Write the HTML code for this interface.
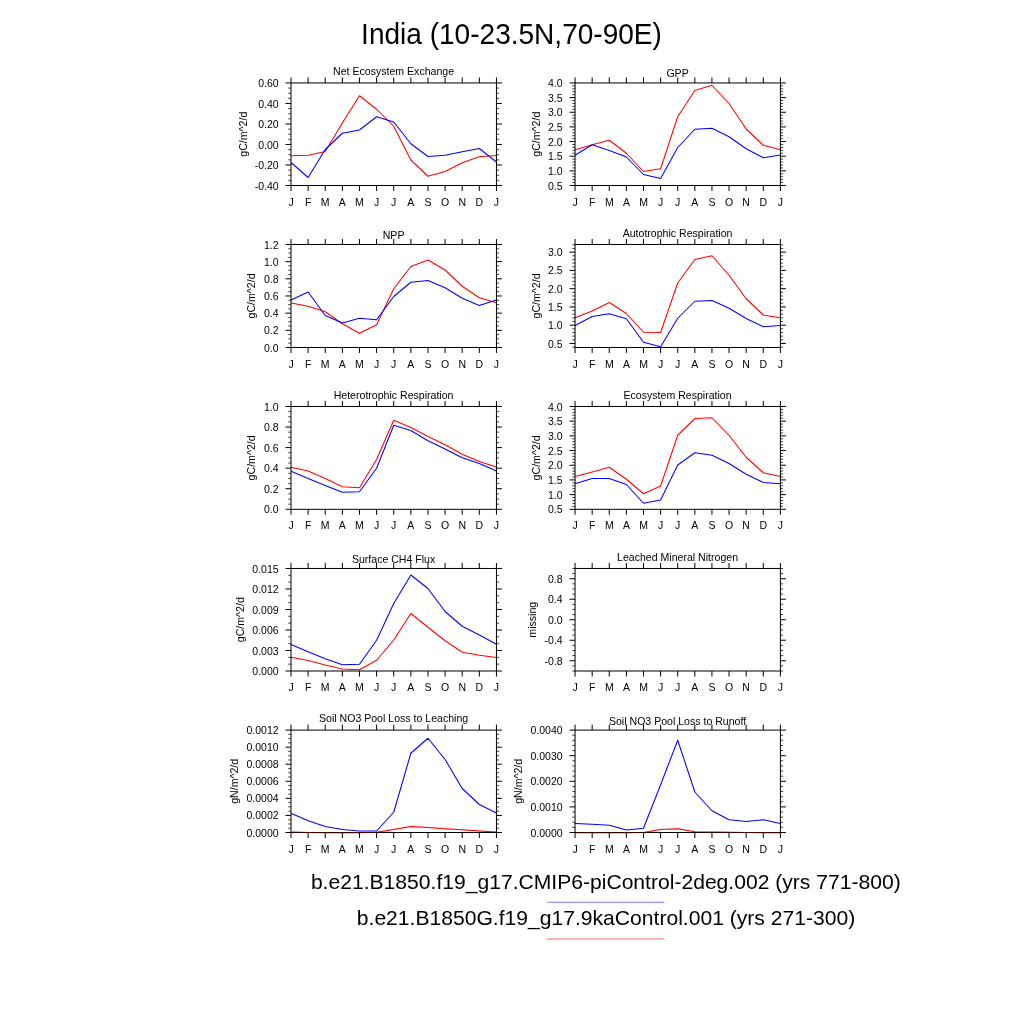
<!DOCTYPE html>
<html lang="en"><head><meta charset="utf-8"><title>India (10-23.5N,70-90E)</title>
<style>html,body{margin:0;padding:0;background:#fff;}body{width:1024px;height:1024px;overflow:hidden;}svg{display:block;}text{font-family:"Liberation Sans",sans-serif;fill:#000;}</style></head><body>
<svg width="1024" height="1024" viewBox="0 0 1024 1024">
<rect x="0" y="0" width="1024" height="1024" fill="#ffffff"/>
<text x="511.5" y="43.75" font-size="29.4" text-anchor="middle" textLength="300.8" lengthAdjust="spacingAndGlyphs">India (10-23.5N,70-90E)</text>
<g>
<polyline fill="none" stroke="#ff0000" stroke-width="1.05" stroke-linejoin="round" points="291,155.75 308.12,155.25 325.24,151.5 342.36,123 359.48,95.75 376.6,109.25 393.73,126.25 410.85,160 427.97,176.25 445.09,171.5 462.21,162.75 479.33,156.75 496.45,155.5"/>
<polyline fill="none" stroke="#0000ff" stroke-width="1.05" stroke-linejoin="round" points="291,162.5 308.12,177.5 325.24,149.5 342.36,133.25 359.48,130 376.6,116.75 393.73,122 410.85,143.75 427.97,156.5 445.09,155.25 462.21,151.75 479.33,148.5 496.45,162"/>
<path d="M291 82.95V77.45M291 185.5V191M308.12 82.95V77.45M308.12 185.5V191M325.24 82.95V77.45M325.24 185.5V191M342.36 82.95V77.45M342.36 185.5V191M359.48 82.95V77.45M359.48 185.5V191M376.6 82.95V77.45M376.6 185.5V191M393.73 82.95V77.45M393.73 185.5V191M410.85 82.95V77.45M410.85 185.5V191M427.97 82.95V77.45M427.97 185.5V191M445.09 82.95V77.45M445.09 185.5V191M462.21 82.95V77.45M462.21 185.5V191M479.33 82.95V77.45M479.33 185.5V191M496.45 82.95V77.45M496.45 185.5V191M291 82.95H285.5M496.45 82.95H501.95M291 103.46H285.5M496.45 103.46H501.95M291 123.97H285.5M496.45 123.97H501.95M291 144.48H285.5M496.45 144.48H501.95M291 164.99H285.5M496.45 164.99H501.95M291 185.5H285.5M496.45 185.5H501.95" stroke="#000" stroke-width="1.0" fill="none"/>
<path d="M291 88.08H288.3M496.45 88.08H499.15M291 93.2H288.3M496.45 93.2H499.15M291 98.33H288.3M496.45 98.33H499.15M291 108.59H288.3M496.45 108.59H499.15M291 113.72H288.3M496.45 113.72H499.15M291 118.84H288.3M496.45 118.84H499.15M291 129.1H288.3M496.45 129.1H499.15M291 134.22H288.3M496.45 134.22H499.15M291 139.35H288.3M496.45 139.35H499.15M291 149.61H288.3M496.45 149.61H499.15M291 154.74H288.3M496.45 154.74H499.15M291 159.86H288.3M496.45 159.86H499.15M291 170.12H288.3M496.45 170.12H499.15M291 175.25H288.3M496.45 175.25H499.15M291 180.37H288.3M496.45 180.37H499.15" stroke="#000" stroke-width="0.75" fill="none"/>
<rect x="291" y="82.95" width="205.45" height="102.55" fill="none" stroke="#000" stroke-width="1.0"/>
<text x="278.6" y="87" font-size="10.5" text-anchor="end">0.60</text>
<text x="278.6" y="107.51" font-size="10.5" text-anchor="end">0.40</text>
<text x="278.6" y="128.02" font-size="10.5" text-anchor="end">0.20</text>
<text x="278.6" y="148.53" font-size="10.5" text-anchor="end">0.00</text>
<text x="278.6" y="169.04" font-size="10.5" text-anchor="end">-0.20</text>
<text x="278.6" y="189.55" font-size="10.5" text-anchor="end">-0.40</text>
<text x="291" y="205.6" font-size="10.5" text-anchor="middle">J</text>
<text x="308.12" y="205.6" font-size="10.5" text-anchor="middle">F</text>
<text x="325.24" y="205.6" font-size="10.5" text-anchor="middle">M</text>
<text x="342.36" y="205.6" font-size="10.5" text-anchor="middle">A</text>
<text x="359.48" y="205.6" font-size="10.5" text-anchor="middle">M</text>
<text x="376.6" y="205.6" font-size="10.5" text-anchor="middle">J</text>
<text x="393.73" y="205.6" font-size="10.5" text-anchor="middle">J</text>
<text x="410.85" y="205.6" font-size="10.5" text-anchor="middle">A</text>
<text x="427.97" y="205.6" font-size="10.5" text-anchor="middle">S</text>
<text x="445.09" y="205.6" font-size="10.5" text-anchor="middle">O</text>
<text x="462.21" y="205.6" font-size="10.5" text-anchor="middle">N</text>
<text x="479.33" y="205.6" font-size="10.5" text-anchor="middle">D</text>
<text x="496.45" y="205.6" font-size="10.5" text-anchor="middle">J</text>
<text x="393.58" y="75.2" font-size="10.57" text-anchor="middle">Net Ecosystem Exchange</text>
<text transform="translate(246.5 134.22) rotate(-90)" font-size="10.6" text-anchor="middle">gC/m^2/d</text>
</g>
<g>
<polyline fill="none" stroke="#ff0000" stroke-width="1.05" stroke-linejoin="round" points="575.05,149.75 592.16,144.75 609.27,140.25 626.39,153.25 643.5,171.5 660.61,168.75 677.72,116.75 694.84,90.5 711.95,85.25 729.06,103.5 746.17,129 763.29,145.25 780.4,149.75"/>
<polyline fill="none" stroke="#0000ff" stroke-width="1.05" stroke-linejoin="round" points="575.05,155.25 592.16,144.75 609.27,150.5 626.39,157 643.5,174.5 660.61,178.5 677.72,147.5 694.84,129.25 711.95,128.25 729.06,136.75 746.17,148.75 763.29,157.75 780.4,155"/>
<path d="M575.05 82.95V77.45M575.05 185.5V191M592.16 82.95V77.45M592.16 185.5V191M609.27 82.95V77.45M609.27 185.5V191M626.39 82.95V77.45M626.39 185.5V191M643.5 82.95V77.45M643.5 185.5V191M660.61 82.95V77.45M660.61 185.5V191M677.72 82.95V77.45M677.72 185.5V191M694.84 82.95V77.45M694.84 185.5V191M711.95 82.95V77.45M711.95 185.5V191M729.06 82.95V77.45M729.06 185.5V191M746.17 82.95V77.45M746.17 185.5V191M763.29 82.95V77.45M763.29 185.5V191M780.4 82.95V77.45M780.4 185.5V191M575.05 82.95H569.55M780.4 82.95H785.9M575.05 97.6H569.55M780.4 97.6H785.9M575.05 112.25H569.55M780.4 112.25H785.9M575.05 126.9H569.55M780.4 126.9H785.9M575.05 141.55H569.55M780.4 141.55H785.9M575.05 156.2H569.55M780.4 156.2H785.9M575.05 170.85H569.55M780.4 170.85H785.9M575.05 185.5H569.55M780.4 185.5H785.9" stroke="#000" stroke-width="1.0" fill="none"/>
<path d="M575.05 85.88H572.35M780.4 85.88H783.1M575.05 88.81H572.35M780.4 88.81H783.1M575.05 91.74H572.35M780.4 91.74H783.1M575.05 94.67H572.35M780.4 94.67H783.1M575.05 100.53H572.35M780.4 100.53H783.1M575.05 103.46H572.35M780.4 103.46H783.1M575.05 106.39H572.35M780.4 106.39H783.1M575.05 109.32H572.35M780.4 109.32H783.1M575.05 115.18H572.35M780.4 115.18H783.1M575.05 118.11H572.35M780.4 118.11H783.1M575.05 121.04H572.35M780.4 121.04H783.1M575.05 123.97H572.35M780.4 123.97H783.1M575.05 129.83H572.35M780.4 129.83H783.1M575.05 132.76H572.35M780.4 132.76H783.1M575.05 135.69H572.35M780.4 135.69H783.1M575.05 138.62H572.35M780.4 138.62H783.1M575.05 144.48H572.35M780.4 144.48H783.1M575.05 147.41H572.35M780.4 147.41H783.1M575.05 150.34H572.35M780.4 150.34H783.1M575.05 153.27H572.35M780.4 153.27H783.1M575.05 159.13H572.35M780.4 159.13H783.1M575.05 162.06H572.35M780.4 162.06H783.1M575.05 164.99H572.35M780.4 164.99H783.1M575.05 167.92H572.35M780.4 167.92H783.1M575.05 173.78H572.35M780.4 173.78H783.1M575.05 176.71H572.35M780.4 176.71H783.1M575.05 179.64H572.35M780.4 179.64H783.1M575.05 182.57H572.35M780.4 182.57H783.1" stroke="#000" stroke-width="0.75" fill="none"/>
<rect x="575.05" y="82.95" width="205.35" height="102.55" fill="none" stroke="#000" stroke-width="1.0"/>
<text x="562.65" y="87" font-size="10.5" text-anchor="end">4.0</text>
<text x="562.65" y="101.65" font-size="10.5" text-anchor="end">3.5</text>
<text x="562.65" y="116.3" font-size="10.5" text-anchor="end">3.0</text>
<text x="562.65" y="130.95" font-size="10.5" text-anchor="end">2.5</text>
<text x="562.65" y="145.6" font-size="10.5" text-anchor="end">2.0</text>
<text x="562.65" y="160.25" font-size="10.5" text-anchor="end">1.5</text>
<text x="562.65" y="174.9" font-size="10.5" text-anchor="end">1.0</text>
<text x="562.65" y="189.55" font-size="10.5" text-anchor="end">0.5</text>
<text x="575.05" y="205.6" font-size="10.5" text-anchor="middle">J</text>
<text x="592.16" y="205.6" font-size="10.5" text-anchor="middle">F</text>
<text x="609.27" y="205.6" font-size="10.5" text-anchor="middle">M</text>
<text x="626.39" y="205.6" font-size="10.5" text-anchor="middle">A</text>
<text x="643.5" y="205.6" font-size="10.5" text-anchor="middle">M</text>
<text x="660.61" y="205.6" font-size="10.5" text-anchor="middle">J</text>
<text x="677.72" y="205.6" font-size="10.5" text-anchor="middle">J</text>
<text x="694.84" y="205.6" font-size="10.5" text-anchor="middle">A</text>
<text x="711.95" y="205.6" font-size="10.5" text-anchor="middle">S</text>
<text x="729.06" y="205.6" font-size="10.5" text-anchor="middle">O</text>
<text x="746.17" y="205.6" font-size="10.5" text-anchor="middle">N</text>
<text x="763.29" y="205.6" font-size="10.5" text-anchor="middle">D</text>
<text x="780.4" y="205.6" font-size="10.5" text-anchor="middle">J</text>
<text x="677.57" y="77.35" font-size="10.57" text-anchor="middle">GPP</text>
<text transform="translate(539.8 134.22) rotate(-90)" font-size="10.6" text-anchor="middle">gC/m^2/d</text>
</g>
<g>
<polyline fill="none" stroke="#ff0000" stroke-width="1.05" stroke-linejoin="round" points="291,303 308.12,306.25 325.24,311.75 342.36,323.75 359.48,333.25 376.6,324.75 393.73,288.75 410.85,266.5 427.97,260 445.09,270 462.21,286.25 479.33,297.75 496.45,302.75"/>
<polyline fill="none" stroke="#0000ff" stroke-width="1.05" stroke-linejoin="round" points="291,300 308.12,292 325.24,315.5 342.36,323 359.48,318.25 376.6,319.75 393.73,296.5 410.85,282.25 427.97,280.5 445.09,287.75 462.21,298.25 479.33,305.5 496.45,300"/>
<path d="M291 244.47V238.97M291 347.47V352.97M308.12 244.47V238.97M308.12 347.47V352.97M325.24 244.47V238.97M325.24 347.47V352.97M342.36 244.47V238.97M342.36 347.47V352.97M359.48 244.47V238.97M359.48 347.47V352.97M376.6 244.47V238.97M376.6 347.47V352.97M393.73 244.47V238.97M393.73 347.47V352.97M410.85 244.47V238.97M410.85 347.47V352.97M427.97 244.47V238.97M427.97 347.47V352.97M445.09 244.47V238.97M445.09 347.47V352.97M462.21 244.47V238.97M462.21 347.47V352.97M479.33 244.47V238.97M479.33 347.47V352.97M496.45 244.47V238.97M496.45 347.47V352.97M291 244.47H285.5M496.45 244.47H501.95M291 261.64H285.5M496.45 261.64H501.95M291 278.8H285.5M496.45 278.8H501.95M291 295.97H285.5M496.45 295.97H501.95M291 313.14H285.5M496.45 313.14H501.95M291 330.3H285.5M496.45 330.3H501.95M291 347.47H285.5M496.45 347.47H501.95" stroke="#000" stroke-width="1.0" fill="none"/>
<path d="M291 248.76H288.3M496.45 248.76H499.15M291 253.05H288.3M496.45 253.05H499.15M291 257.35H288.3M496.45 257.35H499.15M291 265.93H288.3M496.45 265.93H499.15M291 270.22H288.3M496.45 270.22H499.15M291 274.51H288.3M496.45 274.51H499.15M291 283.1H288.3M496.45 283.1H499.15M291 287.39H288.3M496.45 287.39H499.15M291 291.68H288.3M496.45 291.68H499.15M291 300.26H288.3M496.45 300.26H499.15M291 304.55H288.3M496.45 304.55H499.15M291 308.85H288.3M496.45 308.85H499.15M291 317.43H288.3M496.45 317.43H499.15M291 321.72H288.3M496.45 321.72H499.15M291 326.01H288.3M496.45 326.01H499.15M291 334.6H288.3M496.45 334.6H499.15M291 338.89H288.3M496.45 338.89H499.15M291 343.18H288.3M496.45 343.18H499.15" stroke="#000" stroke-width="0.75" fill="none"/>
<rect x="291" y="244.47" width="205.45" height="103" fill="none" stroke="#000" stroke-width="1.0"/>
<text x="278.6" y="248.52" font-size="10.5" text-anchor="end">1.2</text>
<text x="278.6" y="265.69" font-size="10.5" text-anchor="end">1.0</text>
<text x="278.6" y="282.85" font-size="10.5" text-anchor="end">0.8</text>
<text x="278.6" y="300.02" font-size="10.5" text-anchor="end">0.6</text>
<text x="278.6" y="317.19" font-size="10.5" text-anchor="end">0.4</text>
<text x="278.6" y="334.35" font-size="10.5" text-anchor="end">0.2</text>
<text x="278.6" y="351.52" font-size="10.5" text-anchor="end">0.0</text>
<text x="291" y="367.57" font-size="10.5" text-anchor="middle">J</text>
<text x="308.12" y="367.57" font-size="10.5" text-anchor="middle">F</text>
<text x="325.24" y="367.57" font-size="10.5" text-anchor="middle">M</text>
<text x="342.36" y="367.57" font-size="10.5" text-anchor="middle">A</text>
<text x="359.48" y="367.57" font-size="10.5" text-anchor="middle">M</text>
<text x="376.6" y="367.57" font-size="10.5" text-anchor="middle">J</text>
<text x="393.73" y="367.57" font-size="10.5" text-anchor="middle">J</text>
<text x="410.85" y="367.57" font-size="10.5" text-anchor="middle">A</text>
<text x="427.97" y="367.57" font-size="10.5" text-anchor="middle">S</text>
<text x="445.09" y="367.57" font-size="10.5" text-anchor="middle">O</text>
<text x="462.21" y="367.57" font-size="10.5" text-anchor="middle">N</text>
<text x="479.33" y="367.57" font-size="10.5" text-anchor="middle">D</text>
<text x="496.45" y="367.57" font-size="10.5" text-anchor="middle">J</text>
<text x="393.58" y="238.87" font-size="10.57" text-anchor="middle">NPP</text>
<text transform="translate(255.3 295.97) rotate(-90)" font-size="10.6" text-anchor="middle">gC/m^2/d</text>
</g>
<g>
<polyline fill="none" stroke="#ff0000" stroke-width="1.05" stroke-linejoin="round" points="575.05,317.75 592.16,311 609.27,302.5 626.39,313.5 643.5,332.25 660.61,332.5 677.72,283 694.84,259.5 711.95,255.75 729.06,275.25 746.17,298.75 763.29,315 780.4,317.75"/>
<polyline fill="none" stroke="#0000ff" stroke-width="1.05" stroke-linejoin="round" points="575.05,325.5 592.16,316.5 609.27,313.75 626.39,318.75 643.5,342.25 660.61,346.75 677.72,318.25 694.84,301.25 711.95,300.5 729.06,308.25 746.17,318.5 763.29,326.75 780.4,325.5"/>
<path d="M575.05 244.47V238.97M575.05 347.47V352.97M592.16 244.47V238.97M592.16 347.47V352.97M609.27 244.47V238.97M609.27 347.47V352.97M626.39 244.47V238.97M626.39 347.47V352.97M643.5 244.47V238.97M643.5 347.47V352.97M660.61 244.47V238.97M660.61 347.47V352.97M677.72 244.47V238.97M677.72 347.47V352.97M694.84 244.47V238.97M694.84 347.47V352.97M711.95 244.47V238.97M711.95 347.47V352.97M729.06 244.47V238.97M729.06 347.47V352.97M746.17 244.47V238.97M746.17 347.47V352.97M763.29 244.47V238.97M763.29 347.47V352.97M780.4 244.47V238.97M780.4 347.47V352.97M575.05 252.14H569.55M780.4 252.14H785.9M575.05 270.4H569.55M780.4 270.4H785.9M575.05 288.67H569.55M780.4 288.67H785.9M575.05 306.93H569.55M780.4 306.93H785.9M575.05 325.19H569.55M780.4 325.19H785.9M575.05 343.45H569.55M780.4 343.45H785.9" stroke="#000" stroke-width="1.0" fill="none"/>
<path d="M575.05 244.84H572.35M780.4 244.84H783.1M575.05 248.49H572.35M780.4 248.49H783.1M575.05 255.79H572.35M780.4 255.79H783.1M575.05 259.45H572.35M780.4 259.45H783.1M575.05 263.1H572.35M780.4 263.1H783.1M575.05 266.75H572.35M780.4 266.75H783.1M575.05 274.06H572.35M780.4 274.06H783.1M575.05 277.71H572.35M780.4 277.71H783.1M575.05 281.36H572.35M780.4 281.36H783.1M575.05 285.01H572.35M780.4 285.01H783.1M575.05 292.32H572.35M780.4 292.32H783.1M575.05 295.97H572.35M780.4 295.97H783.1M575.05 299.62H572.35M780.4 299.62H783.1M575.05 303.27H572.35M780.4 303.27H783.1M575.05 310.58H572.35M780.4 310.58H783.1M575.05 314.23H572.35M780.4 314.23H783.1M575.05 317.88H572.35M780.4 317.88H783.1M575.05 321.54H572.35M780.4 321.54H783.1M575.05 328.84H572.35M780.4 328.84H783.1M575.05 332.49H572.35M780.4 332.49H783.1M575.05 336.15H572.35M780.4 336.15H783.1M575.05 339.8H572.35M780.4 339.8H783.1M575.05 347.1H572.35M780.4 347.1H783.1" stroke="#000" stroke-width="0.75" fill="none"/>
<rect x="575.05" y="244.47" width="205.35" height="103" fill="none" stroke="#000" stroke-width="1.0"/>
<text x="562.65" y="256.19" font-size="10.5" text-anchor="end">3.0</text>
<text x="562.65" y="274.45" font-size="10.5" text-anchor="end">2.5</text>
<text x="562.65" y="292.72" font-size="10.5" text-anchor="end">2.0</text>
<text x="562.65" y="310.98" font-size="10.5" text-anchor="end">1.5</text>
<text x="562.65" y="329.24" font-size="10.5" text-anchor="end">1.0</text>
<text x="562.65" y="347.5" font-size="10.5" text-anchor="end">0.5</text>
<text x="575.05" y="367.57" font-size="10.5" text-anchor="middle">J</text>
<text x="592.16" y="367.57" font-size="10.5" text-anchor="middle">F</text>
<text x="609.27" y="367.57" font-size="10.5" text-anchor="middle">M</text>
<text x="626.39" y="367.57" font-size="10.5" text-anchor="middle">A</text>
<text x="643.5" y="367.57" font-size="10.5" text-anchor="middle">M</text>
<text x="660.61" y="367.57" font-size="10.5" text-anchor="middle">J</text>
<text x="677.72" y="367.57" font-size="10.5" text-anchor="middle">J</text>
<text x="694.84" y="367.57" font-size="10.5" text-anchor="middle">A</text>
<text x="711.95" y="367.57" font-size="10.5" text-anchor="middle">S</text>
<text x="729.06" y="367.57" font-size="10.5" text-anchor="middle">O</text>
<text x="746.17" y="367.57" font-size="10.5" text-anchor="middle">N</text>
<text x="763.29" y="367.57" font-size="10.5" text-anchor="middle">D</text>
<text x="780.4" y="367.57" font-size="10.5" text-anchor="middle">J</text>
<text x="677.57" y="236.72" font-size="10.57" text-anchor="middle">Autotrophic Respiration</text>
<text transform="translate(539.8 295.97) rotate(-90)" font-size="10.6" text-anchor="middle">gC/m^2/d</text>
</g>
<g>
<polyline fill="none" stroke="#ff0000" stroke-width="1.05" stroke-linejoin="round" points="291,467.25 308.12,471 325.24,478.5 342.36,486.75 359.48,487.75 376.6,459.5 393.73,420.25 410.85,427.5 427.97,436.5 445.09,444.75 462.21,454.25 479.33,461.5 496.45,467"/>
<polyline fill="none" stroke="#0000ff" stroke-width="1.05" stroke-linejoin="round" points="291,471.25 308.12,478.5 325.24,485.5 342.36,492.25 359.48,491.75 376.6,468.25 393.73,425.25 410.85,430.5 427.97,440.75 445.09,449 462.21,457.75 479.33,463.5 496.45,471"/>
<path d="M291 406.47V400.97M291 509.3V514.8M308.12 406.47V400.97M308.12 509.3V514.8M325.24 406.47V400.97M325.24 509.3V514.8M342.36 406.47V400.97M342.36 509.3V514.8M359.48 406.47V400.97M359.48 509.3V514.8M376.6 406.47V400.97M376.6 509.3V514.8M393.73 406.47V400.97M393.73 509.3V514.8M410.85 406.47V400.97M410.85 509.3V514.8M427.97 406.47V400.97M427.97 509.3V514.8M445.09 406.47V400.97M445.09 509.3V514.8M462.21 406.47V400.97M462.21 509.3V514.8M479.33 406.47V400.97M479.33 509.3V514.8M496.45 406.47V400.97M496.45 509.3V514.8M291 406.47H285.5M496.45 406.47H501.95M291 427.04H285.5M496.45 427.04H501.95M291 447.6H285.5M496.45 447.6H501.95M291 468.17H285.5M496.45 468.17H501.95M291 488.73H285.5M496.45 488.73H501.95M291 509.3H285.5M496.45 509.3H501.95" stroke="#000" stroke-width="1.0" fill="none"/>
<path d="M291 411.61H288.3M496.45 411.61H499.15M291 416.75H288.3M496.45 416.75H499.15M291 421.89H288.3M496.45 421.89H499.15M291 432.18H288.3M496.45 432.18H499.15M291 437.32H288.3M496.45 437.32H499.15M291 442.46H288.3M496.45 442.46H499.15M291 452.74H288.3M496.45 452.74H499.15M291 457.88H288.3M496.45 457.88H499.15M291 463.03H288.3M496.45 463.03H499.15M291 473.31H288.3M496.45 473.31H499.15M291 478.45H288.3M496.45 478.45H499.15M291 483.59H288.3M496.45 483.59H499.15M291 493.88H288.3M496.45 493.88H499.15M291 499.02H288.3M496.45 499.02H499.15M291 504.16H288.3M496.45 504.16H499.15" stroke="#000" stroke-width="0.75" fill="none"/>
<rect x="291" y="406.47" width="205.45" height="102.83" fill="none" stroke="#000" stroke-width="1.0"/>
<text x="278.6" y="410.52" font-size="10.5" text-anchor="end">1.0</text>
<text x="278.6" y="431.09" font-size="10.5" text-anchor="end">0.8</text>
<text x="278.6" y="451.65" font-size="10.5" text-anchor="end">0.6</text>
<text x="278.6" y="472.22" font-size="10.5" text-anchor="end">0.4</text>
<text x="278.6" y="492.78" font-size="10.5" text-anchor="end">0.2</text>
<text x="278.6" y="513.35" font-size="10.5" text-anchor="end">0.0</text>
<text x="291" y="529.4" font-size="10.5" text-anchor="middle">J</text>
<text x="308.12" y="529.4" font-size="10.5" text-anchor="middle">F</text>
<text x="325.24" y="529.4" font-size="10.5" text-anchor="middle">M</text>
<text x="342.36" y="529.4" font-size="10.5" text-anchor="middle">A</text>
<text x="359.48" y="529.4" font-size="10.5" text-anchor="middle">M</text>
<text x="376.6" y="529.4" font-size="10.5" text-anchor="middle">J</text>
<text x="393.73" y="529.4" font-size="10.5" text-anchor="middle">J</text>
<text x="410.85" y="529.4" font-size="10.5" text-anchor="middle">A</text>
<text x="427.97" y="529.4" font-size="10.5" text-anchor="middle">S</text>
<text x="445.09" y="529.4" font-size="10.5" text-anchor="middle">O</text>
<text x="462.21" y="529.4" font-size="10.5" text-anchor="middle">N</text>
<text x="479.33" y="529.4" font-size="10.5" text-anchor="middle">D</text>
<text x="496.45" y="529.4" font-size="10.5" text-anchor="middle">J</text>
<text x="393.58" y="398.72" font-size="10.57" text-anchor="middle">Heterotrophic Respiration</text>
<text transform="translate(255.3 457.88) rotate(-90)" font-size="10.6" text-anchor="middle">gC/m^2/d</text>
</g>
<g>
<polyline fill="none" stroke="#ff0000" stroke-width="1.05" stroke-linejoin="round" points="575.05,476.5 592.16,472 609.27,467.25 626.39,479.25 643.5,493.75 660.61,486 677.72,435.25 694.84,418.5 711.95,417.75 729.06,435.5 746.17,457.25 763.29,472.75 780.4,476.5"/>
<polyline fill="none" stroke="#0000ff" stroke-width="1.05" stroke-linejoin="round" points="575.05,483.75 592.16,478.5 609.27,478.5 626.39,484.5 643.5,503.25 660.61,500 677.72,465 694.84,452.75 711.95,455.25 729.06,463.5 746.17,474.25 763.29,482.5 780.4,483.75"/>
<path d="M575.05 406.47V400.97M575.05 509.3V514.8M592.16 406.47V400.97M592.16 509.3V514.8M609.27 406.47V400.97M609.27 509.3V514.8M626.39 406.47V400.97M626.39 509.3V514.8M643.5 406.47V400.97M643.5 509.3V514.8M660.61 406.47V400.97M660.61 509.3V514.8M677.72 406.47V400.97M677.72 509.3V514.8M694.84 406.47V400.97M694.84 509.3V514.8M711.95 406.47V400.97M711.95 509.3V514.8M729.06 406.47V400.97M729.06 509.3V514.8M746.17 406.47V400.97M746.17 509.3V514.8M763.29 406.47V400.97M763.29 509.3V514.8M780.4 406.47V400.97M780.4 509.3V514.8M575.05 406.47H569.55M780.4 406.47H785.9M575.05 421.16H569.55M780.4 421.16H785.9M575.05 435.85H569.55M780.4 435.85H785.9M575.05 450.54H569.55M780.4 450.54H785.9M575.05 465.23H569.55M780.4 465.23H785.9M575.05 479.92H569.55M780.4 479.92H785.9M575.05 494.61H569.55M780.4 494.61H785.9M575.05 509.3H569.55M780.4 509.3H785.9" stroke="#000" stroke-width="1.0" fill="none"/>
<path d="M575.05 409.41H572.35M780.4 409.41H783.1M575.05 412.35H572.35M780.4 412.35H783.1M575.05 415.28H572.35M780.4 415.28H783.1M575.05 418.22H572.35M780.4 418.22H783.1M575.05 424.1H572.35M780.4 424.1H783.1M575.05 427.04H572.35M780.4 427.04H783.1M575.05 429.97H572.35M780.4 429.97H783.1M575.05 432.91H572.35M780.4 432.91H783.1M575.05 438.79H572.35M780.4 438.79H783.1M575.05 441.73H572.35M780.4 441.73H783.1M575.05 444.66H572.35M780.4 444.66H783.1M575.05 447.6H572.35M780.4 447.6H783.1M575.05 453.48H572.35M780.4 453.48H783.1M575.05 456.42H572.35M780.4 456.42H783.1M575.05 459.35H572.35M780.4 459.35H783.1M575.05 462.29H572.35M780.4 462.29H783.1M575.05 468.17H572.35M780.4 468.17H783.1M575.05 471.11H572.35M780.4 471.11H783.1M575.05 474.04H572.35M780.4 474.04H783.1M575.05 476.98H572.35M780.4 476.98H783.1M575.05 482.86H572.35M780.4 482.86H783.1M575.05 485.8H572.35M780.4 485.8H783.1M575.05 488.73H572.35M780.4 488.73H783.1M575.05 491.67H572.35M780.4 491.67H783.1M575.05 497.55H572.35M780.4 497.55H783.1M575.05 500.49H572.35M780.4 500.49H783.1M575.05 503.42H572.35M780.4 503.42H783.1M575.05 506.36H572.35M780.4 506.36H783.1" stroke="#000" stroke-width="0.75" fill="none"/>
<rect x="575.05" y="406.47" width="205.35" height="102.83" fill="none" stroke="#000" stroke-width="1.0"/>
<text x="562.65" y="410.52" font-size="10.5" text-anchor="end">4.0</text>
<text x="562.65" y="425.21" font-size="10.5" text-anchor="end">3.5</text>
<text x="562.65" y="439.9" font-size="10.5" text-anchor="end">3.0</text>
<text x="562.65" y="454.59" font-size="10.5" text-anchor="end">2.5</text>
<text x="562.65" y="469.28" font-size="10.5" text-anchor="end">2.0</text>
<text x="562.65" y="483.97" font-size="10.5" text-anchor="end">1.5</text>
<text x="562.65" y="498.66" font-size="10.5" text-anchor="end">1.0</text>
<text x="562.65" y="513.35" font-size="10.5" text-anchor="end">0.5</text>
<text x="575.05" y="529.4" font-size="10.5" text-anchor="middle">J</text>
<text x="592.16" y="529.4" font-size="10.5" text-anchor="middle">F</text>
<text x="609.27" y="529.4" font-size="10.5" text-anchor="middle">M</text>
<text x="626.39" y="529.4" font-size="10.5" text-anchor="middle">A</text>
<text x="643.5" y="529.4" font-size="10.5" text-anchor="middle">M</text>
<text x="660.61" y="529.4" font-size="10.5" text-anchor="middle">J</text>
<text x="677.72" y="529.4" font-size="10.5" text-anchor="middle">J</text>
<text x="694.84" y="529.4" font-size="10.5" text-anchor="middle">A</text>
<text x="711.95" y="529.4" font-size="10.5" text-anchor="middle">S</text>
<text x="729.06" y="529.4" font-size="10.5" text-anchor="middle">O</text>
<text x="746.17" y="529.4" font-size="10.5" text-anchor="middle">N</text>
<text x="763.29" y="529.4" font-size="10.5" text-anchor="middle">D</text>
<text x="780.4" y="529.4" font-size="10.5" text-anchor="middle">J</text>
<text x="677.57" y="398.72" font-size="10.57" text-anchor="middle">Ecosystem Respiration</text>
<text transform="translate(539.8 457.88) rotate(-90)" font-size="10.6" text-anchor="middle">gC/m^2/d</text>
</g>
<g>
<polyline fill="none" stroke="#ff0000" stroke-width="1.05" stroke-linejoin="round" points="291,657.25 308.12,660.5 325.24,665 342.36,669 359.48,669.75 376.6,660.25 393.73,640 410.85,613.5 427.97,627.25 445.09,640.75 462.21,652.25 479.33,655.25 496.45,657.5"/>
<polyline fill="none" stroke="#0000ff" stroke-width="1.05" stroke-linejoin="round" points="291,644.5 308.12,651.75 325.24,658.75 342.36,664.75 359.48,664.25 376.6,640.25 393.73,603.5 410.85,575 427.97,588.5 445.09,611.5 462.21,626.25 479.33,635 496.45,644.25"/>
<path d="M291 568.47V562.97M291 671V676.5M308.12 568.47V562.97M308.12 671V676.5M325.24 568.47V562.97M325.24 671V676.5M342.36 568.47V562.97M342.36 671V676.5M359.48 568.47V562.97M359.48 671V676.5M376.6 568.47V562.97M376.6 671V676.5M393.73 568.47V562.97M393.73 671V676.5M410.85 568.47V562.97M410.85 671V676.5M427.97 568.47V562.97M427.97 671V676.5M445.09 568.47V562.97M445.09 671V676.5M462.21 568.47V562.97M462.21 671V676.5M479.33 568.47V562.97M479.33 671V676.5M496.45 568.47V562.97M496.45 671V676.5M291 568.47H285.5M496.45 568.47H501.95M291 588.98H285.5M496.45 588.98H501.95M291 609.48H285.5M496.45 609.48H501.95M291 629.99H285.5M496.45 629.99H501.95M291 650.49H285.5M496.45 650.49H501.95M291 671H285.5M496.45 671H501.95" stroke="#000" stroke-width="1.0" fill="none"/>
<path d="M291 575.31H288.3M496.45 575.31H499.15M291 582.14H288.3M496.45 582.14H499.15M291 595.81H288.3M496.45 595.81H499.15M291 602.65H288.3M496.45 602.65H499.15M291 616.32H288.3M496.45 616.32H499.15M291 623.15H288.3M496.45 623.15H499.15M291 636.82H288.3M496.45 636.82H499.15M291 643.66H288.3M496.45 643.66H499.15M291 657.33H288.3M496.45 657.33H499.15M291 664.16H288.3M496.45 664.16H499.15" stroke="#000" stroke-width="0.75" fill="none"/>
<rect x="291" y="568.47" width="205.45" height="102.53" fill="none" stroke="#000" stroke-width="1.0"/>
<text x="278.6" y="572.52" font-size="10.5" text-anchor="end">0.015</text>
<text x="278.6" y="593.03" font-size="10.5" text-anchor="end">0.012</text>
<text x="278.6" y="613.53" font-size="10.5" text-anchor="end">0.009</text>
<text x="278.6" y="634.04" font-size="10.5" text-anchor="end">0.006</text>
<text x="278.6" y="654.54" font-size="10.5" text-anchor="end">0.003</text>
<text x="278.6" y="675.05" font-size="10.5" text-anchor="end">0.000</text>
<text x="291" y="691.1" font-size="10.5" text-anchor="middle">J</text>
<text x="308.12" y="691.1" font-size="10.5" text-anchor="middle">F</text>
<text x="325.24" y="691.1" font-size="10.5" text-anchor="middle">M</text>
<text x="342.36" y="691.1" font-size="10.5" text-anchor="middle">A</text>
<text x="359.48" y="691.1" font-size="10.5" text-anchor="middle">M</text>
<text x="376.6" y="691.1" font-size="10.5" text-anchor="middle">J</text>
<text x="393.73" y="691.1" font-size="10.5" text-anchor="middle">J</text>
<text x="410.85" y="691.1" font-size="10.5" text-anchor="middle">A</text>
<text x="427.97" y="691.1" font-size="10.5" text-anchor="middle">S</text>
<text x="445.09" y="691.1" font-size="10.5" text-anchor="middle">O</text>
<text x="462.21" y="691.1" font-size="10.5" text-anchor="middle">N</text>
<text x="479.33" y="691.1" font-size="10.5" text-anchor="middle">D</text>
<text x="496.45" y="691.1" font-size="10.5" text-anchor="middle">J</text>
<text x="393.58" y="562.87" font-size="10.57" text-anchor="middle">Surface CH4 Flux</text>
<text transform="translate(243.75 619.74) rotate(-90)" font-size="10.6" text-anchor="middle">gC/m^2/d</text>
</g>
<g>
<path d="M575.05 568.47V562.97M575.05 671V676.5M592.16 568.47V562.97M592.16 671V676.5M609.27 568.47V562.97M609.27 671V676.5M626.39 568.47V562.97M626.39 671V676.5M643.5 568.47V562.97M643.5 671V676.5M660.61 568.47V562.97M660.61 671V676.5M677.72 568.47V562.97M677.72 671V676.5M694.84 568.47V562.97M694.84 671V676.5M711.95 568.47V562.97M711.95 671V676.5M729.06 568.47V562.97M729.06 671V676.5M746.17 568.47V562.97M746.17 671V676.5M763.29 568.47V562.97M763.29 671V676.5M780.4 568.47V562.97M780.4 671V676.5M575.05 578.72H569.55M780.4 578.72H785.9M575.05 599.23H569.55M780.4 599.23H785.9M575.05 619.74H569.55M780.4 619.74H785.9M575.05 640.24H569.55M780.4 640.24H785.9M575.05 660.75H569.55M780.4 660.75H785.9" stroke="#000" stroke-width="1.0" fill="none"/>
<path d="M575.05 568.47H572.35M780.4 568.47H783.1M575.05 573.6H572.35M780.4 573.6H783.1M575.05 583.85H572.35M780.4 583.85H783.1M575.05 588.98H572.35M780.4 588.98H783.1M575.05 594.1H572.35M780.4 594.1H783.1M575.05 604.36H572.35M780.4 604.36H783.1M575.05 609.48H572.35M780.4 609.48H783.1M575.05 614.61H572.35M780.4 614.61H783.1M575.05 624.86H572.35M780.4 624.86H783.1M575.05 629.99H572.35M780.4 629.99H783.1M575.05 635.11H572.35M780.4 635.11H783.1M575.05 645.37H572.35M780.4 645.37H783.1M575.05 650.49H572.35M780.4 650.49H783.1M575.05 655.62H572.35M780.4 655.62H783.1M575.05 665.87H572.35M780.4 665.87H783.1M575.05 671H572.35M780.4 671H783.1" stroke="#000" stroke-width="0.75" fill="none"/>
<rect x="575.05" y="568.47" width="205.35" height="102.53" fill="none" stroke="#000" stroke-width="1.0"/>
<text x="562.65" y="582.77" font-size="10.5" text-anchor="end">0.8</text>
<text x="562.65" y="603.28" font-size="10.5" text-anchor="end">0.4</text>
<text x="562.65" y="623.78" font-size="10.5" text-anchor="end">0.0</text>
<text x="562.65" y="644.29" font-size="10.5" text-anchor="end">-0.4</text>
<text x="562.65" y="664.8" font-size="10.5" text-anchor="end">-0.8</text>
<text x="575.05" y="691.1" font-size="10.5" text-anchor="middle">J</text>
<text x="592.16" y="691.1" font-size="10.5" text-anchor="middle">F</text>
<text x="609.27" y="691.1" font-size="10.5" text-anchor="middle">M</text>
<text x="626.39" y="691.1" font-size="10.5" text-anchor="middle">A</text>
<text x="643.5" y="691.1" font-size="10.5" text-anchor="middle">M</text>
<text x="660.61" y="691.1" font-size="10.5" text-anchor="middle">J</text>
<text x="677.72" y="691.1" font-size="10.5" text-anchor="middle">J</text>
<text x="694.84" y="691.1" font-size="10.5" text-anchor="middle">A</text>
<text x="711.95" y="691.1" font-size="10.5" text-anchor="middle">S</text>
<text x="729.06" y="691.1" font-size="10.5" text-anchor="middle">O</text>
<text x="746.17" y="691.1" font-size="10.5" text-anchor="middle">N</text>
<text x="763.29" y="691.1" font-size="10.5" text-anchor="middle">D</text>
<text x="780.4" y="691.1" font-size="10.5" text-anchor="middle">J</text>
<text x="677.57" y="560.72" font-size="10.57" text-anchor="middle">Leached Mineral Nitrogen</text>
<text transform="translate(536.3 619.74) rotate(-90)" font-size="10.6" text-anchor="middle">missing</text>
</g>
<g>
<polyline fill="none" stroke="#ff0000" stroke-width="1.05" stroke-linejoin="round" points="291,832 308.12,832.5 325.24,832.75 342.36,832.75 359.48,832.75 376.6,832.25 393.73,829.5 410.85,826.5 427.97,827.5 445.09,828.75 462.21,829.75 479.33,831 496.45,832"/>
<polyline fill="none" stroke="#0000ff" stroke-width="1.05" stroke-linejoin="round" points="291,813.25 308.12,820.75 325.24,826.5 342.36,829.5 359.48,831 376.6,831 393.73,812.25 410.85,753.25 427.97,738.25 445.09,759.5 462.21,788.5 479.33,804.5 496.45,813"/>
<path d="M291 730.1V724.6M291 832.5V838M308.12 730.1V724.6M308.12 832.5V838M325.24 730.1V724.6M325.24 832.5V838M342.36 730.1V724.6M342.36 832.5V838M359.48 730.1V724.6M359.48 832.5V838M376.6 730.1V724.6M376.6 832.5V838M393.73 730.1V724.6M393.73 832.5V838M410.85 730.1V724.6M410.85 832.5V838M427.97 730.1V724.6M427.97 832.5V838M445.09 730.1V724.6M445.09 832.5V838M462.21 730.1V724.6M462.21 832.5V838M479.33 730.1V724.6M479.33 832.5V838M496.45 730.1V724.6M496.45 832.5V838M291 730.1H285.5M496.45 730.1H501.95M291 747.17H285.5M496.45 747.17H501.95M291 764.23H285.5M496.45 764.23H501.95M291 781.3H285.5M496.45 781.3H501.95M291 798.37H285.5M496.45 798.37H501.95M291 815.43H285.5M496.45 815.43H501.95M291 832.5H285.5M496.45 832.5H501.95" stroke="#000" stroke-width="1.0" fill="none"/>
<path d="M291 734.37H288.3M496.45 734.37H499.15M291 738.63H288.3M496.45 738.63H499.15M291 742.9H288.3M496.45 742.9H499.15M291 751.43H288.3M496.45 751.43H499.15M291 755.7H288.3M496.45 755.7H499.15M291 759.97H288.3M496.45 759.97H499.15M291 768.5H288.3M496.45 768.5H499.15M291 772.77H288.3M496.45 772.77H499.15M291 777.03H288.3M496.45 777.03H499.15M291 785.57H288.3M496.45 785.57H499.15M291 789.83H288.3M496.45 789.83H499.15M291 794.1H288.3M496.45 794.1H499.15M291 802.63H288.3M496.45 802.63H499.15M291 806.9H288.3M496.45 806.9H499.15M291 811.17H288.3M496.45 811.17H499.15M291 819.7H288.3M496.45 819.7H499.15M291 823.97H288.3M496.45 823.97H499.15M291 828.23H288.3M496.45 828.23H499.15" stroke="#000" stroke-width="0.75" fill="none"/>
<rect x="291" y="730.1" width="205.45" height="102.4" fill="none" stroke="#000" stroke-width="1.0"/>
<polyline fill="none" stroke="#ff0000" stroke-opacity="0.3" stroke-width="1.05" stroke-linejoin="round" points="291,832 308.12,832.5 325.24,832.75 342.36,832.75 359.48,832.75 376.6,832.25 393.73,829.5 410.85,826.5 427.97,827.5 445.09,828.75 462.21,829.75 479.33,831 496.45,832"/>
<text x="278.6" y="734.15" font-size="10.5" text-anchor="end">0.0012</text>
<text x="278.6" y="751.22" font-size="10.5" text-anchor="end">0.0010</text>
<text x="278.6" y="768.28" font-size="10.5" text-anchor="end">0.0008</text>
<text x="278.6" y="785.35" font-size="10.5" text-anchor="end">0.0006</text>
<text x="278.6" y="802.42" font-size="10.5" text-anchor="end">0.0004</text>
<text x="278.6" y="819.48" font-size="10.5" text-anchor="end">0.0002</text>
<text x="278.6" y="836.55" font-size="10.5" text-anchor="end">0.0000</text>
<text x="291" y="852.6" font-size="10.5" text-anchor="middle">J</text>
<text x="308.12" y="852.6" font-size="10.5" text-anchor="middle">F</text>
<text x="325.24" y="852.6" font-size="10.5" text-anchor="middle">M</text>
<text x="342.36" y="852.6" font-size="10.5" text-anchor="middle">A</text>
<text x="359.48" y="852.6" font-size="10.5" text-anchor="middle">M</text>
<text x="376.6" y="852.6" font-size="10.5" text-anchor="middle">J</text>
<text x="393.73" y="852.6" font-size="10.5" text-anchor="middle">J</text>
<text x="410.85" y="852.6" font-size="10.5" text-anchor="middle">A</text>
<text x="427.97" y="852.6" font-size="10.5" text-anchor="middle">S</text>
<text x="445.09" y="852.6" font-size="10.5" text-anchor="middle">O</text>
<text x="462.21" y="852.6" font-size="10.5" text-anchor="middle">N</text>
<text x="479.33" y="852.6" font-size="10.5" text-anchor="middle">D</text>
<text x="496.45" y="852.6" font-size="10.5" text-anchor="middle">J</text>
<text x="393.58" y="722.35" font-size="10.57" text-anchor="middle">Soil NO3 Pool Loss to Leaching</text>
<text transform="translate(238 781.3) rotate(-90)" font-size="10.6" text-anchor="middle">gN/m^2/d</text>
</g>
<g>
<polyline fill="none" stroke="#ff0000" stroke-width="1.05" stroke-linejoin="round" points="575.05,832.75 592.16,832.75 609.27,832.75 626.39,832.75 643.5,832.5 660.61,829.5 677.72,828.75 694.84,831.75 711.95,832 729.06,832.25 746.17,832.5 763.29,832.75 780.4,832.75"/>
<polyline fill="none" stroke="#0000ff" stroke-width="1.05" stroke-linejoin="round" points="575.05,823.5 592.16,824.25 609.27,825.25 626.39,830 643.5,828.25 660.61,784.75 677.72,740.25 694.84,792 711.95,810.75 729.06,819.75 746.17,821.5 763.29,819.75 780.4,823.5"/>
<path d="M575.05 730.1V724.6M575.05 832.5V838M592.16 730.1V724.6M592.16 832.5V838M609.27 730.1V724.6M609.27 832.5V838M626.39 730.1V724.6M626.39 832.5V838M643.5 730.1V724.6M643.5 832.5V838M660.61 730.1V724.6M660.61 832.5V838M677.72 730.1V724.6M677.72 832.5V838M694.84 730.1V724.6M694.84 832.5V838M711.95 730.1V724.6M711.95 832.5V838M729.06 730.1V724.6M729.06 832.5V838M746.17 730.1V724.6M746.17 832.5V838M763.29 730.1V724.6M763.29 832.5V838M780.4 730.1V724.6M780.4 832.5V838M575.05 730.1H569.55M780.4 730.1H785.9M575.05 755.7H569.55M780.4 755.7H785.9M575.05 781.3H569.55M780.4 781.3H785.9M575.05 806.9H569.55M780.4 806.9H785.9M575.05 832.5H569.55M780.4 832.5H785.9" stroke="#000" stroke-width="1.0" fill="none"/>
<path d="M575.05 735.22H572.35M780.4 735.22H783.1M575.05 740.34H572.35M780.4 740.34H783.1M575.05 745.46H572.35M780.4 745.46H783.1M575.05 750.58H572.35M780.4 750.58H783.1M575.05 760.82H572.35M780.4 760.82H783.1M575.05 765.94H572.35M780.4 765.94H783.1M575.05 771.06H572.35M780.4 771.06H783.1M575.05 776.18H572.35M780.4 776.18H783.1M575.05 786.42H572.35M780.4 786.42H783.1M575.05 791.54H572.35M780.4 791.54H783.1M575.05 796.66H572.35M780.4 796.66H783.1M575.05 801.78H572.35M780.4 801.78H783.1M575.05 812.02H572.35M780.4 812.02H783.1M575.05 817.14H572.35M780.4 817.14H783.1M575.05 822.26H572.35M780.4 822.26H783.1M575.05 827.38H572.35M780.4 827.38H783.1" stroke="#000" stroke-width="0.75" fill="none"/>
<rect x="575.05" y="730.1" width="205.35" height="102.4" fill="none" stroke="#000" stroke-width="1.0"/>
<polyline fill="none" stroke="#ff0000" stroke-opacity="0.3" stroke-width="1.05" stroke-linejoin="round" points="575.05,832.75 592.16,832.75 609.27,832.75 626.39,832.75 643.5,832.5 660.61,829.5 677.72,828.75 694.84,831.75 711.95,832 729.06,832.25 746.17,832.5 763.29,832.75 780.4,832.75"/>
<text x="562.65" y="734.15" font-size="10.5" text-anchor="end">0.0040</text>
<text x="562.65" y="759.75" font-size="10.5" text-anchor="end">0.0030</text>
<text x="562.65" y="785.35" font-size="10.5" text-anchor="end">0.0020</text>
<text x="562.65" y="810.95" font-size="10.5" text-anchor="end">0.0010</text>
<text x="562.65" y="836.55" font-size="10.5" text-anchor="end">0.0000</text>
<text x="575.05" y="852.6" font-size="10.5" text-anchor="middle">J</text>
<text x="592.16" y="852.6" font-size="10.5" text-anchor="middle">F</text>
<text x="609.27" y="852.6" font-size="10.5" text-anchor="middle">M</text>
<text x="626.39" y="852.6" font-size="10.5" text-anchor="middle">A</text>
<text x="643.5" y="852.6" font-size="10.5" text-anchor="middle">M</text>
<text x="660.61" y="852.6" font-size="10.5" text-anchor="middle">J</text>
<text x="677.72" y="852.6" font-size="10.5" text-anchor="middle">J</text>
<text x="694.84" y="852.6" font-size="10.5" text-anchor="middle">A</text>
<text x="711.95" y="852.6" font-size="10.5" text-anchor="middle">S</text>
<text x="729.06" y="852.6" font-size="10.5" text-anchor="middle">O</text>
<text x="746.17" y="852.6" font-size="10.5" text-anchor="middle">N</text>
<text x="763.29" y="852.6" font-size="10.5" text-anchor="middle">D</text>
<text x="780.4" y="852.6" font-size="10.5" text-anchor="middle">J</text>
<text x="677.57" y="724.5" font-size="10.57" text-anchor="middle">Soil NO3 Pool Loss to Runoff</text>
<text transform="translate(521.65 781.3) rotate(-90)" font-size="10.6" text-anchor="middle">gN/m^2/d</text>
</g>
<text x="605.8" y="888.5" font-size="21.1" text-anchor="middle">b.e21.B1850.f19_g17.CMIP6-piControl-2deg.002 (yrs 771-800)</text>
<rect x="547" y="901.9" width="117.35" height="0.5" fill="#0000ff"/>
<text x="606" y="925.1" font-size="21.1" text-anchor="middle">b.e21.B1850G.f19_g17.9kaControl.001 (yrs 271-300)</text>
<rect x="547" y="938.7" width="117.35" height="0.6" fill="#ff0000"/>
</svg></body></html>
